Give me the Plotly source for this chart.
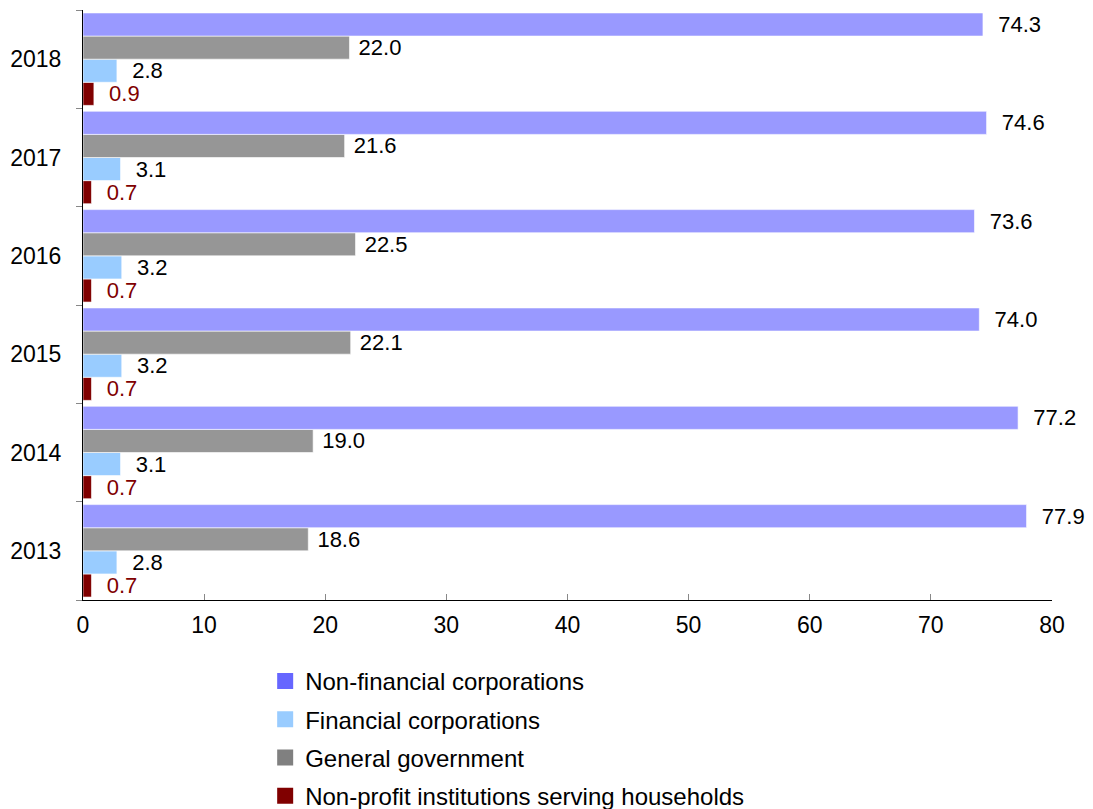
import plotly.graph_objects as go

YEARS = ["2013", "2014", "2015", "2016", "2017", "2018"]
NON_FINANCIAL = [77.9, 77.2, 74.0, 73.6, 74.6, 74.3]
GENERAL_GOV = [18.6, 19.0, 22.1, 22.5, 21.6, 22.0]
FINANCIAL = [2.8, 3.1, 3.2, 3.2, 3.1, 2.8]
NON_PROFIT = [0.7, 0.7, 0.7, 0.7, 0.7, 0.9]

FONT = 'Liberation Sans, Arial, sans-serif'
NB = '\u00a0'

# drawn bottom -> top inside each year group
BAR_SERIES = [
    ("Non-profit institutions serving households", NON_PROFIT, '#800000', '#800000', 2),
    ("Financial corporations", FINANCIAL, '#99ccff', '#000000', 2),
    ("General government", GENERAL_GOV, '#969696', '#000000', 1),
    ("Non-financial corporations", NON_FINANCIAL, '#9999ff', '#000000', 2),
]

# legend order and swatch colours as in the source
LEGEND_SERIES = [
    ("Non-financial corporations", '#6666ff'),
    ("Financial corporations", '#99ccff'),
    ("General government", '#808080'),
    ("Non-profit institutions serving households", '#800000'),
]

fig = go.Figure()
for name, vals, color, tcolor, pad in BAR_SERIES:
    fig.add_trace(go.Bar(
        x=vals, y=YEARS, orientation='h', name=name,
        marker=dict(color=color, line=dict(color='rgba(255,255,255,0.6)', width=1)),
        text=[NB * pad + f"{v:.1f}" for v in vals],
        textposition='outside',
        textfont=dict(family=FONT, size=22, color=tcolor),
        constraintext='none',
        cliponaxis=False,
        showlegend=False,
    ))

for i, (name, color) in enumerate(LEGEND_SERIES):
    fig.add_trace(go.Scatter(
        x=[None], y=[None], mode='markers', name=name,
        marker=dict(symbol='square', size=16, color=color),
        legendgroup=str(i),
    ))

fig.update_layout(
    width=1093, height=830,
    margin=dict(t=10, r=41, b=230, l=83),
    paper_bgcolor='white',
    plot_bgcolor='white',
    font=dict(family=FONT, size=23, color='#000000'),
    barmode='group',
    bargap=0.06,
    bargroupgap=0,
    xaxis=dict(
        range=[0, 80], dtick=10, showgrid=False, zeroline=False,
        showline=True, linecolor='#000000', linewidth=1,
        ticks='inside', ticklen=6, tickcolor='#888888',
        ticklabelstandoff=4,
    ),
    yaxis=dict(
        type='category', categoryorder='array', categoryarray=YEARS,
        showgrid=False, zeroline=False,
        showline=True, linecolor='#000000', linewidth=1,
        ticks='outside', ticklen=6, tickcolor='#888888',
        tickson='boundaries', ticklabelstandoff=16,
    ),
    legend=dict(
        x=0.188, xanchor='left', y=-0.1, yanchor='top',
        orientation='v', traceorder='grouped', tracegroupgap=4,
        font=dict(family=FONT, size=24, color='#000000'),
        bgcolor='rgba(0,0,0,0)',
    ),
)

# drop the default page margin so the figure sits at the window's top-left
fig.write_html(
    "out.html",
    config={'displayModeBar': False},
    post_script="document.body.style.margin='0';document.body.style.overflow='hidden';",
)
